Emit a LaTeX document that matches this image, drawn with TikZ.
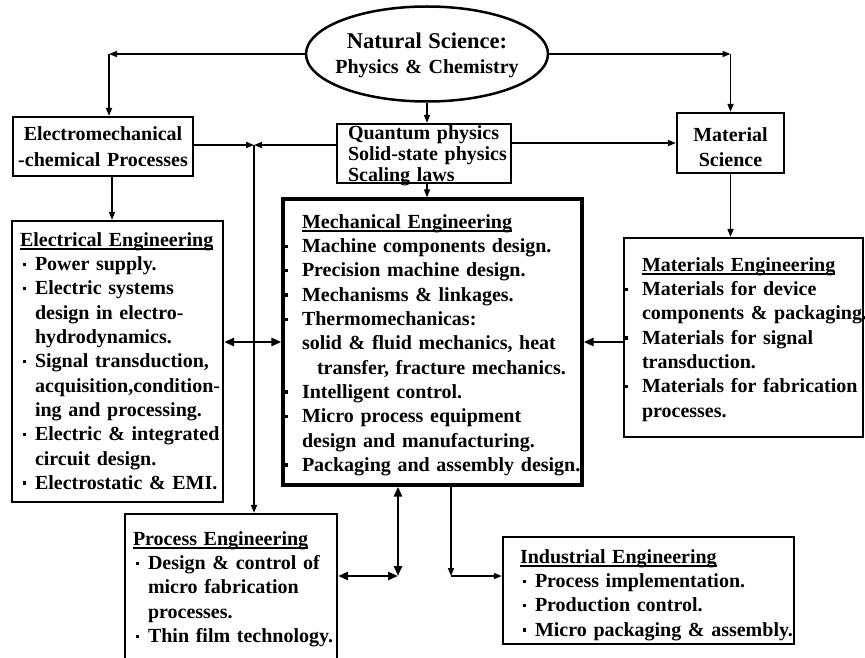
\documentclass[tikz,border=0pt]{standalone}
\usepackage{fontspec}
\setmainfont{Liberation Serif}
\usetikzlibrary{arrows.meta,shapes.geometric}
\newcommand{\BUL}{\rule[4.5pt]{3pt}{3.5pt}}
\newcommand{\bi}{\leavevmode\makebox[15pt][l]{\hspace*{3pt}\BUL}}
\newcommand{\ci}{\leavevmode\hspace*{15pt}}
\newcommand{\hb}{\leavevmode\llap{\BUL\hspace{14pt}}}
\newcommand{\ult}[1]{\leavevmode\setbox0\hbox{#1}\rlap{\rule[-3.5pt]{\wd0}{1.6pt}}\box0}
\tikzset{
  box/.style={draw, line width=2.2pt, rectangle, inner sep=0pt},
  txt/.style={inner sep=0pt, outer sep=0pt, anchor=north west, align=left, text width=#1, font=\fontsize{20}{24.3}\selectfont\bfseries},
  ctxt/.style={inner sep=0pt, outer sep=0pt, anchor=north, align=center, text width=#1},
  arr/.style={line width=1.6pt, -{Triangle[length=8pt,width=6pt]}},
  darr/.style={line width=2.8pt, {Triangle[length=10pt,width=8pt]}-{Triangle[length=10pt,width=8pt]}},
  harr/.style={line width=2.8pt, -{Triangle[length=10pt,width=8pt]}}
}
\begin{document}
\begin{tikzpicture}[x=1pt,y=-1pt]
\useasboundingbox (0,0) rectangle (865,658);
\fill[white] (0,0) rectangle (865,658);

% ellipse
\node[draw, ellipse, line width=2.5pt, inner sep=0pt, minimum width=242pt, minimum height=95pt] (ns) at (427,54) {};
\node[ctxt=240pt, font=\fontsize{20}{25}\selectfont\bfseries] (nst) at (427,32.7) {{\fontsize{22.5}{25}\selectfont Natural Science:}\\Physics \& Chemistry};

% boxes
\node[box, minimum width=180pt, minimum height=59pt] (em) at (103,146.5) {};
\node[ctxt=180pt, font=\fontsize{20}{26}\selectfont\bfseries] (emt) at (103,126.5) {Electromechanical\\-chemical Processes};

\node[box, minimum width=174pt, minimum height=59pt] (qp) at (424,153.5) {};
\node[txt=300pt, font=\fontsize{20}{21}\selectfont\bfseries] (qpt) at (348,125.5) {Quantum physics\\Solid-state physics\\Scaling laws};

\node[box, minimum width=107pt, minimum height=60pt] (ms) at (730.5,143) {};
\node[ctxt=107pt, font=\fontsize{20}{25}\selectfont\bfseries] (mst) at (730.5,128) {Material\\Science};

\node[box, minimum width=211pt, minimum height=281pt] (ee) at (117.5,361.5) {};
\node[txt=320pt] (eet) at (20,232.5) {\ult{Electrical Engineering}\\
\bi Power supply.\\
\bi Electric systems\\
\ci design in electro-\\
\ci hydrodynamics.\\
\bi Signal transduction,\\
\ci acquisition,condition-\\
\ci ing and processing.\\
\bi Electric \& integrated\\
\ci circuit design.\\
\bi Electrostatic \& EMI.};

\node[box, line width=3.3pt, minimum width=299pt, minimum height=286pt] (me) at (432.5,342) {};
\node[txt=360pt] (met) at (302,214.5) {\ult{Mechanical Engineering}\\
\hb Machine components design.\\
\hb Precision machine design.\\
\hb Mechanisms \& linkages.\\
\hb Thermomechanicas:\\
solid \& fluid mechanics, heat\\
\hspace*{15pt}transfer, fracture mechanics.\\
\hb Intelligent control.\\
\hb Micro process equipment\\
design and manufacturing.\\
\hb Packaging and assembly design.};

\node[box, minimum width=239pt, minimum height=199pt] (mat) at (743.5,337.5) {};
\node[txt=320pt] (matt) at (642,257.5) {\ult{Materials Engineering}\\
\hb Materials for device\\
components \& packaging.\\
\hb Materials for signal\\
transduction.\\
\hb Materials for fabrication\\
processes.};

\node[box, minimum width=212pt, minimum height=186pt] (pe) at (231,607) {};
\node[txt=320pt] (pet) at (133,531.5) {\ult{Process Engineering}\\
\bi Design \& control of\\
\ci micro fabrication\\
\ci processes.\\
\bi Thin film technology.};

\node[box, minimum width=291pt, minimum height=107pt] (ie) at (648.5,590.5) {};
\node[txt=320pt] (iet) at (520,549.5) {\ult{Industrial Engineering}\\
\bi Process implementation.\\
\bi Production control.\\
\bi Micro packaging \& assembly.};

% helper coordinates
\coordinate (c1) at (109,54);
\coordinate (c2) at (730.5,54);
\coordinate (c6) at (112,200);
\coordinate (jn) at (254,145);
\coordinate (c4) at (398,576);
\coordinate (c5) at (451,576);

% connectors
\draw[arr] (ns.west) -- (c1);
\draw[arr] (c1) -- (c1 |- em.north);
\draw[arr] (ns.east) -- (c2);
\draw[arr] (c2) -- (ms.north);
\draw[arr] (ns.south) -- (ns.south |- qp.north);
\draw[arr] (ns.south |- qp.south) -- (ns.south |- me.north);
\draw[arr] (qp.east |- ms.west) -- (ms.west);
\draw[arr] (ms.south) -- (ms.south |- mat.north);
\draw[arr] (em.south -| c6) -- (ee.north -| c6);
\draw[arr] (em.east |- jn) -- (jn);
\draw[arr] (qp.west |- jn) -- (jn);
\draw[arr] (jn) -- (jn |- pe.north);
\draw[darr] (ee.east |- me.west) -- (me.west);
\draw[harr] (mat.west |- me.east) -- (me.east);
\draw[darr] (me.south -| c4) -- (c4);
\draw[darr] (pe.east |- c4) -- (c4);
\draw[arr] (me.south -| c5) -- (c5);
\draw[arr] (c5) -- (ie.west |- c5);
\end{tikzpicture}
\end{document}
